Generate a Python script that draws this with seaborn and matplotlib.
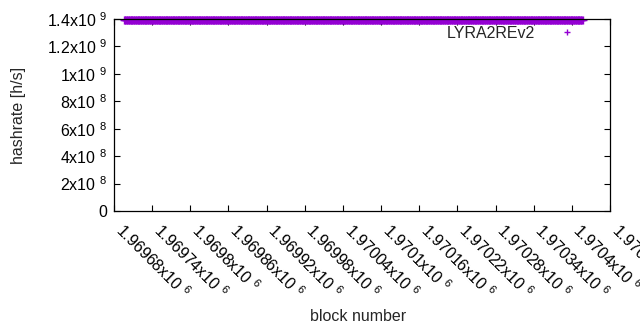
import numpy as np
import pandas as pd
import matplotlib
matplotlib.use("Agg")
import matplotlib.pyplot as plt
import seaborn as sns

# ---- data ----
first_block = 1969696
last_block = 1970417
# hashrate level per ~90-block segment (h/s), read as nearly flat
segment_hashrate = [1.395e9, 1.393e9, 1.394e9, 1.396e9, 1.395e9, 1.393e9, 1.395e9, 1.394e9]
series_label = "LYRA2REv2"

x_ticks = [1969680, 1969740, 1969800, 1969860, 1969920, 1969980, 1970040,
           1970100, 1970160, 1970220, 1970280, 1970340, 1970400, 1970460]
x_tick_mant = ["1.96968", "1.96974", "1.9698", "1.96986", "1.96992", "1.96998",
               "1.97004", "1.9701", "1.97016", "1.97022", "1.97028", "1.97034",
               "1.9704", "1.97046"]
y_ticks = [0, 2e8, 4e8, 6e8, 8e8, 1e9, 1.2e9, 1.4e9]
y_tick_labels = ["0", "2x10 $^{8}$", "4x10 $^{8}$", "6x10 $^{8}$", "8x10 $^{8}$",
                 "1x10 $^{9}$", "1.2x10 $^{9}$", "1.4x10 $^{9}$"]

blocks = np.arange(first_block, last_block + 1)
seg_len = int(np.ceil(len(blocks) / len(segment_hashrate)))
hashrate = np.repeat(segment_hashrate, seg_len)[:len(blocks)]
df = pd.DataFrame({"block": blocks, "hashrate": hashrate})

sns.set_style("white")
plt.rcParams["font.family"] = ["Liberation Sans", "DejaVu Sans"]
plt.rcParams["mathtext.fontset"] = "custom"
plt.rcParams["mathtext.rm"] = "Liberation Sans"
plt.rcParams["mathtext.it"] = "Liberation Sans"

FS = 11.5
fig = plt.figure(figsize=(6.4, 3.3), dpi=100)
ax = fig.add_axes([114/640, 1-211/330, (610-114)/640, (211-19)/330])

color = "#9400d3"
sns.scatterplot(data=df, x="block", y="hashrate", marker="+", s=34,
                color=color, linewidth=1.0, ax=ax, label=series_label,
                clip_on=False, zorder=3)

ax.set_xlim(1969680, 1970460)
ax.set_ylim(0, 1.4e9)
ax.set_xticks(x_ticks)
ax.set_xticklabels([m + "x10 $^{6}$" for m in x_tick_mant], rotation=-45,
                   ha="left", va="baseline", rotation_mode="anchor", fontsize=FS)
ax.set_yticks(y_ticks)
ax.set_yticklabels(y_tick_labels, fontsize=FS)
ax.tick_params(direction="in", length=4, width=0.8, top=True, right=True,
               bottom=True, left=True, pad=5, colors="black")
ax.tick_params(axis="x", pad=15)
for sp in ax.spines.values():
    sp.set_color("black")
    sp.set_linewidth(0.9)
    sp.set_visible(True)
    sp.set_zorder(4)

ax.set_xlabel("block number", fontsize=FS, va="center")
ax.set_ylabel("hashrate [h/s]", fontsize=FS, va="center")
ax.xaxis.set_label_coords(0.492, -0.547)
ax.yaxis.set_label_coords(-0.192, 0.5)

leg = ax.legend(loc="upper right", bbox_to_anchor=(0.959, 0.997), frameon=False,
                markerfirst=False, fontsize=FS, handletextpad=1.05,
                borderaxespad=0.0, markerscale=0.86, scatteryoffsets=[0.5])

fig.savefig("out.png", dpi=100)
